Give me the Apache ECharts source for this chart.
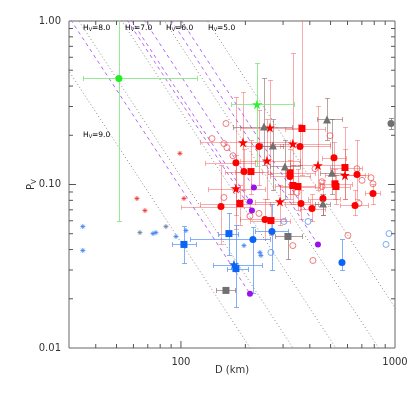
<!DOCTYPE html>
<html><head><meta charset="utf-8">
<script src="https://cdn.jsdelivr.net/npm/echarts@6/dist/echarts.min.js"></script>
<style>html,body{margin:0;padding:0;background:#fff}#c{width:415px;height:395px}</style>
</head><body><div id="c"></div>
<script>
// ---------- axis ticks ----------
const xMajorTicks = [100];
const xMinorTicks = [40,50,60,70,80,90,200,300,400,500,600,700,800,900];
const yMajorTicks = [0.1];
const yMinorTicks = [0.02,0.03,0.04,0.05,0.06,0.07,0.08,0.09,0.2,0.3,0.4,0.5,0.6,0.7,0.8,0.9];
const xTickLabels = [100, 1000];
const yTickLabels = [0.01, 0.1, 1];

// ---------- constant-H reference lines ----------
const hLevels = [5, 6, 7, 8, 9];
const hLabels = ['5.0','6.0','7.0','8.0','9.0'];
const extraPurpleH = [5.6];
const extraPurpleEndPv = [0.06];

// ---------- red filled circles ----------
const redCircD  = [231.5, 359.9, 180.7, 518.8, 664.5, 197.0, 323.0, 153.8, 247.0, 363.7, 409.4, 460.7, 650.5, 789.2];
const redCircPv = [0.171, 0.171, 0.136, 0.146, 0.115, 0.120, 0.112, 0.0733, 0.0611, 0.0765, 0.0712, 0.0821, 0.0744, 0.0881];
const redCircDLo = [194.9, 290.1, 129.4, 455.9, 583.8, 160.6, 260.5, 100.0, 188.6, 306.1, 359.9, 392.3, 553.4, 724.2];
const redCircDHi = [275.0, 497.0, 221.7, 590.2, 747.9, 239.0, 400.6, 210.1, 306.1, 436.6, 470.9, 553.4, 747.9, 851.1];
const redCircPLo = [0.100, 0.1325, 0.0655, 0.114, 0.081, 0.081, 0.0869, 0.043, 0.0461, 0.0611, 0.0594, 0.0655, 0.0655, 0.0765];
const redCircPHi = [0.2875, 0.233, 0.345, 0.183, 0.188, 0.164, 0.142, 0.1325, 0.081, 0.0932, 0.0869, 0.107, 0.0932, 0.101];

// ---------- red filled stars ----------
const redStarD  = [260.5, 194.9, 333.3, 252.3, 436.6, 583.8, 180.7, 290.1];
const redStarPv = [0.223, 0.181, 0.178, 0.140, 0.131, 0.114, 0.0945, 0.0787];
const redStarDLo = [188.6, 122.7, 260.5, 188.6, 323.0, 470.9, 133.7, 221.7];
const redStarDHi = [359.9, 323.0, 497.0, 359.9, 583.8, 724.2, 247.0, 400.6];
const redStarPLo = [0.1153, 0.0932, 0.0869, 0.081, 0.0932, 0.081, 0.0531, 0.0569];
const redStarPHi = [0.4387, 0.370, 0.641, 0.25, 0.30, 0.164, 0.1525, 0.100];

// ---------- red filled squares ----------
const redSqD  = [367.6, 212.4, 323.0, 333.3, 352.1, 583.8, 524.3, 529.9, 188.6, 263.3];
const redSqPv = [0.220, 0.120, 0.118, 0.0986, 0.0972, 0.127, 0.101, 0.0972, 0.0765, 0.0602];
const redSqDLo = [306.1, 178.8, 260.5, 275.0, 290.1, 497.0, 446.2, 455.9, 122.7, 210.1];
const redSqDHi = [470.9, 254.9, 422.9, 422.9, 446.2, 701.3, 629.6, 616.2, 260.5, 323.0];
const redSqPLo = [0.115, 0.0869, 0.081, 0.0755, 0.0703, 0.081, 0.081, 0.0755, 0.0569, 0.0494];
const redSqPHi = [1.5, 0.188, 0.164, 0.1325, 0.1236, 0.226, 0.1236, 0.115, 0.100, 0.0755];

// ---------- red open circles ----------
const redOpenD  = [162.3, 139.6, 158.8, 164.1, 175.0, 497.0, 422.9, 455.9, 664.5, 701.3, 772.5, 789.2, 348.4, 455.9, 678.9, 158.8, 210.1, 231.5, 333.3, 413.8, 602.6];
const redOpenPv = [0.236, 0.191, 0.178, 0.168, 0.150, 0.199, 0.125, 0.104, 0.125, 0.106, 0.110, 0.101, 0.0894, 0.0972, 0.0765, 0.0833, 0.0642, 0.0665, 0.0423, 0.0343, 0.0488];

// ---------- asterisks ----------
const redAstD  = [98.9, 62.3, 67.9, 103.3];
const redAstPv = [0.155, 0.0821, 0.0693, 0.0821];
const blueAstD  = [34.8, 34.8, 74.0, 76.4, 94.8, 105.5, 197.0, 233.9, 236.4];
const blueAstPv = [0.0553, 0.0395, 0.0501, 0.0508, 0.0481, 0.0523, 0.0423, 0.0384, 0.0368];
const grayAstD  = [64.3, 85.1];
const grayAstPv = [0.0508, 0.0553];

// ---------- blue points ----------
const blueSqD  = [103.3, 167.6, 180.7];
const blueSqPv = [0.0430, 0.0501, 0.0306];
const blueSqDLo = [90.8, 148.9, 164.1];
const blueSqDHi = [117.5, 184.6, 205.6];
const blueSqPLo = [0.0333, 0.0373, 0.0177];
const blueSqPHi = [0.0561, 0.0674, 0.0569];

const blueCircD  = [216.9, 266.1, 565.4];
const blueCircPv = [0.0461, 0.0516, 0.0333];
const blueCircDLo = [110.2, 221.7, 565.4];
const blueCircDHi = [260.5, 316.2, 565.4];
const blueCircPLo = [0.0218, 0.0302, 0.0302];
const blueCircPHi = [0.0553, 0.0755, 0.0461];

const blueStarD  = [176.9];
const blueStarPv = [0.0324];
const blueStarDLo = [141.1];
const blueStarDHi = [239.0];

const blueOpenD  = [263.3, 302.9, 392.3, 937.6, 907.7];
const blueOpenPv = [0.0384, 0.0594, 0.0594, 0.0501, 0.0430];

// ---------- gray points ----------
const grayTriD  = [244.4, 268.9, 481.1, 306.1, 507.6, 460.7];
const grayTriPv = [0.226, 0.173, 0.250, 0.129, 0.118, 0.0765];
const grayTriDLo = [175.0, 239.0, 432.0, 260.5, 446.2, 422.9];
const grayTriDHi = [329.9, 299.6, 565.4, 359.9, 583.8, 497.0];
const grayTriPLo = [0.1325, 0.0932, 0.188, 0.081, 0.0869, 0.0655];
const grayTriPHi = [0.445, 0.25, 0.336, 0.188, 0.25, 0.0869];

const graySqD  = [162.3, 316.2];
const graySqPv = [0.0225, 0.0481];
const graySqDLo = [145.6, 275.0];
const graySqDHi = [178.8, 367.6];
const graySqPLo = [0.0225, 0.0348];
const graySqPHi = [0.0225, 0.0481];

const grayCircD  = [958];
const grayCircPv = [0.236];
const grayCircPLo = [0.220];
const grayCircPHi = [0.2534];

// ---------- green points ----------
const greenCircD = [51.3], greenCircPv = [0.445];
const greenCircDLo = [34.8], greenCircDHi = [118.8], greenCircPLo = [0.0602], greenCircPHi = [2.0];
const greenStarD = [226.5], greenStarPv = [0.309];
const greenStarDLo = [171.3], greenStarDHi = [336.9], greenStarPLo = [0.129], greenStarPHi = [0.557];

// ---------- purple points ----------
const purpleD  = [219.2, 210.1, 214.6, 436.6, 210.1];
const purplePv = [0.0959, 0.0787, 0.0693, 0.0430, 0.0215];

// ================= helpers =================
const K = 1329;
const pvFromH = (H, D) => Math.pow(K * Math.pow(10, -H / 5) / D, 2);
const dFromH = (H, pv) => K * Math.pow(10, -H / 5) / Math.sqrt(pv);
const hFrom = (D, pv) => -5 * Math.log10(D * Math.sqrt(pv) / K);

const X_MIN = 30, X_MAX = 1000, Y_MIN = 0.01, Y_MAX = 1;

const zip2 = (a, b) => a.map((v, i) => [v, b[i]]);
const errData = (D, P, dlo, dhi, plo, phi) => D.map((d, i) => [d, P[i],
  dlo ? dlo[i] : d, dhi ? dhi[i] : d, plo ? plo[i] : P[i], phi ? phi[i] : P[i]]);

function ln(x1, y1, x2, y2, color) {
  return { type: 'line', shape: { x1: x1, y1: y1, x2: x2, y2: y2 }, style: { stroke: color, lineWidth: 1, fill: null } };
}

function errRender(color) {
  return function (params, api) {
    const cs = params.coordSys;
    const top = cs.y, bottom = cs.y + cs.height;
    const x = api.value(0), y = api.value(1);
    const dl = api.value(2), dh = api.value(3), pl = api.value(4), ph = api.value(5);
    const c = api.coord([x, y]);
    const cap = 2.5;
    const ch = [];
    const cy = Math.round(c[1]) + 0.5, cx = Math.round(c[0]) + 0.5;
    if (dh > dl) {
      const a = Math.round(api.coord([dl, y])[0]) + 0.5, b = Math.round(api.coord([dh, y])[0]) + 0.5;
      ch.push(ln(a, cy, b, cy, color));
      ch.push(ln(a, cy - cap, a, cy + cap, color));
      ch.push(ln(b, cy - cap, b, cy + cap, color));
    }
    if (ph > pl) {
      let a = api.coord([x, ph])[1], b = api.coord([x, pl])[1];
      const capTop = a >= top; a = Math.max(a, top);
      const capBot = b <= bottom; b = Math.min(b, bottom);
      a = Math.round(a) + 0.5; b = Math.round(b) + 0.5;
      ch.push(ln(cx, a, cx, b, color));
      if (capTop) ch.push(ln(cx - cap, a, cx + cap, a, color));
      if (capBot) ch.push(ln(cx - cap, b, cx + cap, b, color));
    }
    return { type: 'group', children: ch };
  };
}
function errSeries(data, color) {
  return { type: 'custom', renderItem: errRender(color), data: data, encode: { x: 0, y: 1 }, silent: true, z: 2 };
}

const STAR = 'path://M50,0L61,35L98,35L68,57L79,91L50,70L21,91L32,57L2,35L39,35Z';
const AST = 'path://M0,5L10,5M5,0L5,10M1.5,1.5L8.5,8.5M8.5,1.5L1.5,8.5';

function scatter(data, symbol, size, color, extra) {
  return Object.assign({ type: 'scatter', data: data, symbol: symbol, symbolSize: size,
    itemStyle: { color: color, opacity: 1 }, silent: true, z: 5 }, extra || {});
}

// ---------- ticks as scatter marks on the frame ----------
const TICK = '#555';
const MAJ = 7, MIN = 4;
function xTickItems(vals, len) {
  return vals.map(v => ({ value: [v, Y_MIN], symbolSize: [1, len], symbolOffset: [0, -len / 2] }))
    .concat(vals.map(v => ({ value: [v, Y_MAX], symbolSize: [1, len], symbolOffset: [0, len / 2] })));
}
function yTickItems(vals, len) {
  return vals.map(v => ({ value: [X_MIN, v], symbolSize: [len, 1], symbolOffset: [len / 2, 0] }))
    .concat(vals.map(v => ({ value: [X_MAX, v], symbolSize: [len, 1], symbolOffset: [-len / 2, 0] })));
}
const tickItems = [].concat(xTickItems(xMajorTicks, MAJ), xTickItems(xMinorTicks, MIN),
  yTickItems(yMajorTicks, MAJ), yTickItems(yMinorTicks, MIN));
const tickSeries = { type: 'scatter', data: tickItems, symbol: 'rect', clip: false, silent: true, z: 6,
  itemStyle: { color: TICK, opacity: 1 } };

// H lines
const grayLines = hLevels.map(H => ({
  type: 'line', data: [[20, pvFromH(H, 20)], [2000, pvFromH(H, 2000)]], symbol: 'none', silent: true, z: 1,
  lineStyle: { color: '#8a8a8a', width: 1, type: [1, 2.5] }
}));
const purpleHs = purpleD.map((d, i) => [hFrom(d, purplePv[i]), purplePv[i]])
  .concat(extraPurpleH.map((h, i) => [h, extraPurpleEndPv[i]]));
const purpleLines = purpleHs.map(([H, pEnd]) => ({
  type: 'line', data: [[dFromH(H, 1.2), 1.2], [dFromH(H, pEnd), pEnd]], symbol: 'none', silent: true, z: 1,
  lineStyle: { color: '#b266f5', width: 1, type: [3.5, 3.5] }
}));

const isPow10 = v => Math.abs(Math.log10(v) - Math.round(Math.log10(v))) < 1e-6;

const FONT = 'DejaVu Sans';
const hRich = { h: { fontSize: 7.5, fontFamily: FONT, color: '#333' }, s: { fontSize: 5, fontFamily: FONT, color: '#333', padding: [4, 0, 0, 0] } };
const hLabelPos = { '8.0': [83, 24], '7.0': [125, 24], '6.0': [166, 24], '5.0': [208, 24], '9.0': [83, 131] };

const option = {
  backgroundColor: '#fff',
  animation: false,
  grid: { left: 69, right: 20, top: 21, bottom: 47, show: true, borderColor: '#666', borderWidth: 1, containLabel: false, outerBoundsMode: 'none' },
  xAxis: {
    type: 'log', logBase: 10, min: X_MIN, max: X_MAX,
    name: 'D (km)', nameLocation: 'middle', nameGap: 17, nameMoveOverlap: false,
    nameTextStyle: { fontSize: 10, fontFamily: FONT, color: '#333' },
    axisLine: { show: false }, axisTick: { show: false }, splitLine: { show: false }, minorTick: { show: false },
    axisLabel: { fontSize: 10, fontFamily: FONT, color: '#333', margin: 9,
      formatter: v => (v >= 99 && isPow10(v) && xTickLabels.some(t => Math.abs(t - v) < 1e-3)) ? String(Math.round(v)) : '' }
  },
  yAxis: {
    type: 'log', logBase: 10, min: Y_MIN, max: Y_MAX,
    name: '{p|P}{v|V}', nameLocation: 'middle', nameGap: 31, nameRotate: 90, nameMoveOverlap: false,
    nameTextStyle: { rich: { p: { fontSize: 10, fontFamily: FONT, color: '#333' }, v: { fontSize: 7, fontFamily: FONT, color: '#333', padding: [6, 0, 0, 0] } } },
    axisLine: { show: false }, axisTick: { show: false }, splitLine: { show: false },
    axisLabel: { fontSize: 10, fontFamily: FONT, color: '#333', margin: 8,
      formatter: v => yTickLabels.some(t => Math.abs(Math.log10(t) - Math.log10(v)) < 1e-6) ? v.toFixed(2) : '' }
  },
  graphic: hLabels.map(t => ({
    type: 'text', left: hLabelPos[t][0], top: hLabelPos[t][1], silent: true, z: 10,
    style: { text: '{h|H}{s|V}{h|=' + t + '}', rich: hRich }
  })),
  series: [].concat(
    grayLines, purpleLines,
    [
      tickSeries,
      errSeries(errData(redCircD, redCircPv, redCircDLo, redCircDHi, redCircPLo, redCircPHi), 'rgba(240,70,70,0.45)'),
      errSeries(errData(redStarD, redStarPv, redStarDLo, redStarDHi, redStarPLo, redStarPHi), 'rgba(240,70,70,0.45)'),
      errSeries(errData(redSqD, redSqPv, redSqDLo, redSqDHi, redSqPLo, redSqPHi), 'rgba(240,70,70,0.45)'),
      errSeries(errData(grayTriD, grayTriPv, grayTriDLo, grayTriDHi, grayTriPLo, grayTriPHi), 'rgba(130,90,90,0.55)'),
      errSeries(errData(graySqD, graySqPv, graySqDLo, graySqDHi, graySqPLo, graySqPHi), 'rgba(130,90,90,0.6)'),
      errSeries(errData(grayCircD, grayCircPv, null, null, grayCircPLo, grayCircPHi), 'rgba(110,110,110,0.7)'),
      errSeries(errData(blueSqD, blueSqPv, blueSqDLo, blueSqDHi, blueSqPLo, blueSqPHi), 'rgba(90,150,245,0.75)'),
      errSeries(errData(blueCircD, blueCircPv, blueCircDLo, blueCircDHi, blueCircPLo, blueCircPHi), 'rgba(90,150,245,0.75)'),
      errSeries(errData(blueStarD, blueStarPv, blueStarDLo, blueStarDHi, null, null), 'rgba(90,150,245,0.75)'),
      errSeries(errData(greenCircD, greenCircPv, greenCircDLo, greenCircDHi, greenCircPLo, greenCircPHi), 'rgba(120,230,120,0.8)'),
      errSeries(errData(greenStarD, greenStarPv, greenStarDLo, greenStarDHi, greenStarPLo, greenStarPHi), 'rgba(120,230,120,0.8)'),

      scatter(zip2(redOpenD, redOpenPv), 'circle', 6, 'transparent', { itemStyle: { color: 'rgba(0,0,0,0)', borderColor: '#f05a5a', borderWidth: 1 } }),
      scatter(zip2(blueOpenD, blueOpenPv), 'circle', 6, 'transparent', { itemStyle: { color: 'rgba(0,0,0,0)', borderColor: '#5a95f5', borderWidth: 1 } }),
      scatter(zip2(redAstD, redAstPv), AST, 5, 'transparent', { itemStyle: { color: 'rgba(0,0,0,0)', borderColor: '#f03030', borderWidth: 1 } }),
      scatter(zip2(blueAstD, blueAstPv), AST, 5, 'transparent', { itemStyle: { color: 'rgba(0,0,0,0)', borderColor: '#3a80f0', borderWidth: 1 } }),
      scatter(zip2(grayAstD, grayAstPv), AST, 5, 'transparent', { itemStyle: { color: 'rgba(0,0,0,0)', borderColor: '#6a7a98', borderWidth: 1 } }),
      scatter(zip2(redCircD, redCircPv), 'circle', 7, '#ff0000'),
      scatter(zip2(redSqD, redSqPv), 'rect', 7, '#ff0000'),
      scatter(zip2(redStarD, redStarPv), STAR, 10, '#ff0000'),
      scatter(zip2(grayTriD, grayTriPv), 'triangle', 8, '#707070'),
      scatter(zip2(graySqD, graySqPv), 'rect', 7, '#707070'),
      scatter(zip2(grayCircD, grayCircPv), 'circle', 7, '#707070'),
      scatter(zip2(blueSqD, blueSqPv), 'rect', 7, '#0a64f5'),
      scatter(zip2(blueCircD, blueCircPv), 'circle', 7, '#0a64f5'),
      scatter(zip2(blueStarD, blueStarPv), STAR, 10, '#0a64f5'),
      scatter(zip2(purpleD, purplePv), 'circle', 6, '#9a10ee'),
      scatter(zip2(greenCircD, greenCircPv), 'circle', 7, '#22ee22'),
      scatter(zip2(greenStarD, greenStarPv), STAR, 10, '#33f033')
    ])
};

const chart = echarts.init(document.getElementById('c'), null, { renderer: 'canvas' });
chart.setOption(option);
</script>
</body></html>
